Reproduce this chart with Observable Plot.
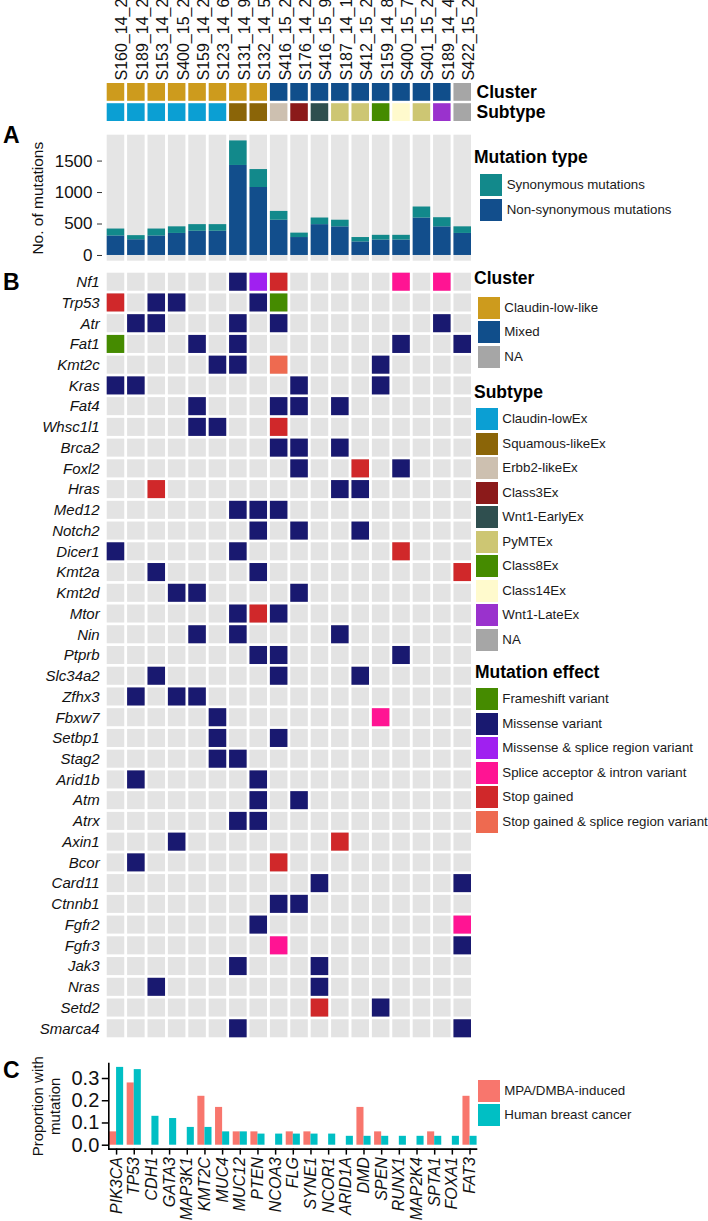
<!DOCTYPE html>
<html>
<head>
<meta charset="utf-8">
<script src="https://cdn.jsdelivr.net/npm/d3@7"></script>
<script src="https://cdn.jsdelivr.net/npm/@observablehq/plot@0.6"></script>
<style>
  body { margin: 0; background: #fff; }
  #root { position: relative; width: 708px; height: 1221px; overflow: hidden;
          font-family: "Liberation Sans", Arial, Helvetica, sans-serif; color: #111; }
  .part { position: absolute; left: 0; }
  .lgt { position: absolute; font-weight: bold; font-size: 17.5px; line-height: 1; white-space: nowrap; color: #000; }
  .sw { position: absolute; }
  .lgx { position: absolute; font-size: 13.3px; white-space: nowrap; color: #1a1a1a; }
  .letter { position: absolute; font-weight: bold; font-size: 23px; line-height: 1; color: #000; }
</style>
</head>
<body>
<div id="root"></div>
<script>
// ---------------- DATA ----------------
const samples = ["S160_14_2","S189_14_2","S153_14_2","S400_15_2","S159_14_2","S123_14_6",
  "S131_14_9","S132_14_5","S416_15_2","S176_14_2","S416_15_9","S187_14_1",
  "S412_15_2","S159_14_8","S400_15_7","S401_15_2","S189_14_4","S422_15_2"];

const clusterOf = ["Claudin-low-like","Claudin-low-like","Claudin-low-like","Claudin-low-like",
  "Claudin-low-like","Claudin-low-like","Claudin-low-like","Claudin-low-like",
  "Mixed","Mixed","Mixed","Mixed","Mixed","Mixed","Mixed","Mixed","Mixed","NA"];

const subtypeOf = ["Claudin-lowEx","Claudin-lowEx","Claudin-lowEx","Claudin-lowEx","Claudin-lowEx","Claudin-lowEx",
  "Squamous-likeEx","Squamous-likeEx","Erbb2-likeEx","Class3Ex","Wnt1-EarlyEx","PyMTEx",
  "PyMTEx","Class8Ex","Class14Ex","PyMTEx","Wnt1-LateEx","NA"];

const nonSynonymous = [310, 250, 310, 350, 385, 385, 1430, 1080, 560, 285, 490, 455, 215, 245, 245, 595, 455, 350];
const synonymous    = [110,  65, 110, 105, 105, 105,  390,  285, 140,  70, 105, 105,  70,  75,  75, 175, 145, 105];

const genes = ["Nf1","Trp53","Atr","Fat1","Kmt2c","Kras","Fat4","Whsc1l1","Brca2","Foxl2","Hras",
  "Med12","Notch2","Dicer1","Kmt2a","Kmt2d","Mtor","Nin","Ptprb","Slc34a2","Zfhx3","Fbxw7",
  "Setbp1","Stag2","Arid1b","Atm","Atrx","Axin1","Bcor","Card11","Ctnnb1","Fgfr2","Fgfr3",
  "Jak3","Nras","Setd2","Smarca4"];

// one string per gene, one character per sample (same order as samples); "." = no mutation
const mutationRows = [
  "......MXS.....P.P.", // Nf1
  "S.MM...MF.........", // Trp53
  ".MM...M.M.......M.", // Atr
  "F...M.M.......M..M", // Fat1
  ".....MM.C....M....", // Kmt2c
  "MM.......M...M....", // Kras
  "....M...MM.M......", // Fat4
  "....MM..S.........", // Whsc1l1
  "........MM.M......", // Brca2
  ".........M..S.M...", // Foxl2
  "..S........MM.....", // Hras
  "......MMM.........", // Med12
  ".......M.M..M.....", // Notch2
  "M.....M.......S...", // Dicer1
  "..M....M.........S", // Kmt2a
  "...MM....M........", // Kmt2d
  "......MSM.........", // Mtor
  "....M.M....M......", // Nin
  ".......MM.....M...", // Ptprb
  "..M.....M...M.....", // Slc34a2
  ".M.MM.............", // Zfhx3
  ".....M.......P....", // Fbxw7
  ".....M..M.........", // Setbp1
  ".....MM...........", // Stag2
  ".M.....M..........", // Arid1b
  ".......M.M........", // Atm
  "......MM..........", // Atrx
  "...M.......S......", // Axin1
  ".M......S.........", // Bcor
  "..........M......M", // Card11
  "........MM........", // Ctnnb1
  ".......M.........P", // Fgfr2
  "........P........M", // Fgfr3
  "......M...M.......", // Jak3
  "..M.......M.......", // Nras
  "..........S..M....", // Setd2
  "......M..........M"  // Smarca4
];
const effectCodes = {F: "Frameshift variant", M: "Missense variant", X: "Missense & splice region variant",
  P: "Splice acceptor & intron variant", S: "Stop gained", C: "Stop gained & splice region variant"};

const compGenes = ["PIK3CA","TP53","CDH1","GATA3","MAP3K1","KMT2C","MUC4","MUC12","PTEN","NCOA3","FLG",
  "SYNE1","NCOR1","ARID1A","DMD","SPEN","RUNX1","MAP2K4","SPTA1","FOXA1","FAT3"];
const mpaProp   = [0.06, 0.28, 0, 0, 0, 0.22, 0.17, 0.06, 0.06, 0, 0.06, 0.06, 0, 0, 0.17, 0.06, 0, 0, 0.06, 0, 0.22];
const humanProp = [0.35, 0.34, 0.13, 0.12, 0.08, 0.08, 0.06, 0.06, 0.05, 0.05, 0.05, 0.05, 0.05, 0.04, 0.04, 0.04, 0.04, 0.04, 0.04, 0.04, 0.04];

// legends / palettes
const typeLevels = ["Synonymous mutations","Non-synonymous mutations"];
const typeColors = ["#12898B","#124E8C"];
const clusterLevels = ["Claudin-low-like","Mixed","NA"];
const clusterColors = ["#CD9B1D","#104E8B","#A6A6A6"];
const subtypeLevels = ["Claudin-lowEx","Squamous-likeEx","Erbb2-likeEx","Class3Ex","Wnt1-EarlyEx","PyMTEx","Class8Ex","Class14Ex","Wnt1-LateEx","NA"];
const subtypeColors = ["#0B9FD3","#8B6508","#CDC0B0","#8B1A1A","#2F4F4F","#CDC673","#458B00","#FFFACD","#9A32CD","#A6A6A6"];
const effectLevels = ["Frameshift variant","Missense variant","Missense & splice region variant","Splice acceptor & intron variant","Stop gained","Stop gained & splice region variant"];
const effectColors = ["#458B00","#191970","#A020F0","#FF1493","#D0282A","#EE6A50"];
const compLevels = ["MPA/DMBA-induced","Human breast cancer"];
const compColors = ["#F8766D","#00BFC4"];

// ---------------- LAYOUT ----------------
const root = document.getElementById("root");
const FONT = "'Liberation Sans', Arial, Helvetica, sans-serif";
const baseStyle = {fontFamily: FONT, fontSize: "15px", color: "#111", background: "transparent", overflow: "hidden"};
const xSamples = {domain: samples, range: [106.7, 471], paddingInner: 0.14, paddingOuter: 0, round: false};

function place(node, top) { node.classList.add("part"); node.style.top = top + "px"; root.append(node); }

// ---- Top annotation: sample labels + Cluster + Subtype ----
const annot = samples.flatMap((s, i) => [
  {sample: s, row: "Cluster", color: clusterColors[clusterLevels.indexOf(clusterOf[i])]},
  {sample: s, row: "Subtype", color: subtypeColors[subtypeLevels.indexOf(subtypeOf[i])]}
]);
place(Plot.plot({
  width: 708, height: 125, marginTop: 83, marginBottom: 4, marginLeft: 106.7, marginRight: 237,
  style: baseStyle,
  x: {...xSamples, axis: null},
  y: {domain: ["Cluster","Subtype"], range: [83, 121], paddingInner: 0.12, paddingOuter: 0, round: false},
  color: {type: "identity"},
  marks: [
    Plot.cell(annot, {x: "sample", y: "row", fill: "color"}),
    Plot.text(samples, {x: d => d, frameAnchor: "top", dy: -3, rotate: -90, textAnchor: "start", fontSize: 16, fill: "#111"}),
    Plot.axisY({anchor: "right", tickSize: 0, tickPadding: 5, fontSize: 17.5, fontWeight: "bold", fill: "#000", label: null})
  ]
}), 0);

// ---- Panel A: stacked mutation counts ----
const stackData = samples.flatMap((s, i) => [
  {sample: s, type: "Non-synonymous mutations", n: nonSynonymous[i]},
  {sample: s, type: "Synonymous mutations", n: synonymous[i]}
]);
const totals = samples.map((s, i) => nonSynonymous[i] + synonymous[i]);
const aMax = d3.max(totals);
const aDom = [-0.05 * aMax, 1.05 * aMax];
place(Plot.plot({
  width: 708, height: 145, marginTop: 9.7, marginBottom: 9.3, marginLeft: 102, marginRight: 237,
  style: baseStyle,
  x: {...xSamples, axis: null},
  y: {domain: aDom},
  color: {domain: typeLevels, range: typeColors},
  marks: [
    Plot.barY(samples, {x: d => d, y1: aDom[0], y2: aDom[1], fill: "#e5e5e5"}),
    Plot.barY(stackData, {x: "sample", y: "n", fill: "type"}),
    Plot.axisY({ticks: [0, 500, 1000, 1500], tickFormat: d3.format("d"), tickSize: 5, tickPadding: 5,
      fontSize: 17, stroke: "#333", fill: "#111", label: null}),
    Plot.text(["No. of mutations"], {frameAnchor: "left", dx: -64.5, rotate: -90, textAnchor: "middle",
      fontSize: 15.5, fill: "#111"})
  ]
}), 125);

// ---- Panel B: mutation heatmap ----
const grid = genes.flatMap(g => samples.map(s => ({gene: g, sample: s})));
const muts = genes.flatMap((g, gi) => [...mutationRows[gi]]
  .map((c, si) => c === "." ? null : {gene: g, sample: samples[si], effect: effectCodes[c]})
  .filter(Boolean));
place(Plot.plot({
  width: 708, height: 775, marginTop: 2.7, marginBottom: 7.7, marginLeft: 106.7, marginRight: 237,
  style: baseStyle,
  x: {...xSamples, axis: null},
  y: {domain: genes, range: [2.7, 767.3], paddingInner: 0.13, paddingOuter: 0, round: false},
  color: {domain: effectLevels, range: effectColors},
  marks: [
    Plot.cell(grid, {x: "sample", y: "gene", fill: "#e3e3e3"}),
    Plot.cell(muts, {x: "sample", y: "gene", fill: "effect"}),
    Plot.axisY({tickSize: 0, tickPadding: 7.5, fontSize: 15, fontStyle: "italic", fill: "#111", label: null})
  ]
}), 270);

// ---- Panel C: comparison with human breast cancer ----
const cMax = d3.max([...mpaProp, ...humanProp]);
const cDom = [-0.05 * cMax, 1.05 * cMax];
const halfBand = 0.8 * 17.67 / 2;
place(Plot.plot({
  width: 708, height: 176, marginTop: 18, marginBottom: 72.4, marginLeft: 108.3, marginRight: 230.7,
  style: baseStyle,
  x: {domain: compGenes, paddingInner: 0.2, paddingOuter: 0.04, round: false},
  y: {domain: cDom},
  marks: [
    Plot.barY(compGenes.map((g, i) => ({g, v: mpaProp[i]})).filter(d => d.v > 0),
      {x: "g", y: "v", fill: compColors[0], insetRight: halfBand}),
    Plot.barY(compGenes.map((g, i) => ({g, v: humanProp[i]})).filter(d => d.v > 0),
      {x: "g", y: "v", fill: compColors[1], insetLeft: halfBand}),
    Plot.ruleY([cDom[0]], {stroke: "#000", strokeWidth: 1.6}),
    Plot.frame({anchor: "left", stroke: "#000", strokeWidth: 1.6}),
    Plot.axisY({ticks: [0, 0.1, 0.2, 0.3], tickFormat: d3.format(".1f"), tickSize: 6.5, tickPadding: 3,
      fontSize: 20, stroke: "#000", strokeWidth: 1.5, fill: "#111", label: null}),
    Plot.axisX({tickSize: 6, tickPadding: 2, tickRotate: -90, fontSize: 16, fontStyle: "italic",
      stroke: "#000", strokeWidth: 1.5, fill: "#111", label: null}),
    Plot.text(["Proportion with\nmutation"], {frameAnchor: "left", dx: -62.8, rotate: -90, textAnchor: "middle",
      fontSize: 15, lineHeight: 1.15, fill: "#111"})
  ]
}), 1045);

// ---------------- LEGENDS (HTML) ----------------
function legend({title, levels, colors, titleLeft, titleTop, swLeft, firstTop, pitch, txtLeft, size = 22}) {
  if (title) {
    const t = document.createElement("div");
    t.className = "lgt"; t.textContent = title;
    t.style.left = titleLeft + "px"; t.style.top = titleTop + "px";
    root.append(t);
  }
  levels.forEach((lv, i) => {
    const top = firstTop + i * pitch;
    const sw = document.createElement("div");
    sw.className = "sw";
    sw.style.cssText = `left:${swLeft}px;top:${top}px;width:${size}px;height:${size}px;background:${colors[i]};`;
    const tx = document.createElement("div");
    tx.className = "lgx"; tx.textContent = lv;
    tx.style.cssText = `left:${txtLeft}px;top:${top}px;height:${size}px;line-height:${size}px;`;
    root.append(sw, tx);
  });
}
legend({title: "Mutation type", levels: typeLevels, colors: typeColors, titleLeft: 474, titleTop: 149.4,
  swLeft: 480, firstTop: 174.3, pitch: 24.7, txtLeft: 506.7});
legend({title: "Cluster", levels: clusterLevels, colors: clusterColors, titleLeft: 474, titleTop: 270.4,
  swLeft: 478.3, firstTop: 296.7, pitch: 24.6, txtLeft: 504.3});
legend({title: "Subtype", levels: subtypeLevels, colors: subtypeColors, titleLeft: 474, titleTop: 384.4,
  swLeft: 475.7, firstTop: 408.3, pitch: 24.5, txtLeft: 502.3});
legend({title: "Mutation effect", levels: effectLevels, colors: effectColors, titleLeft: 475, titleTop: 664.4,
  swLeft: 475.7, firstTop: 688.3, pitch: 24.5, txtLeft: 502.3});
legend({title: null, levels: compLevels, colors: compColors,
  swLeft: 478.3, firstTop: 1080, pitch: 24.3, txtLeft: 504.3});

// panel letters
[["A", 124], ["B", 270.5], ["C", 1058.8]].forEach(([l, top]) => {
  const d = document.createElement("div");
  d.className = "letter"; d.textContent = l;
  d.style.left = "3px"; d.style.top = top + "px";
  root.append(d);
});
</script>
</body>
</html>
